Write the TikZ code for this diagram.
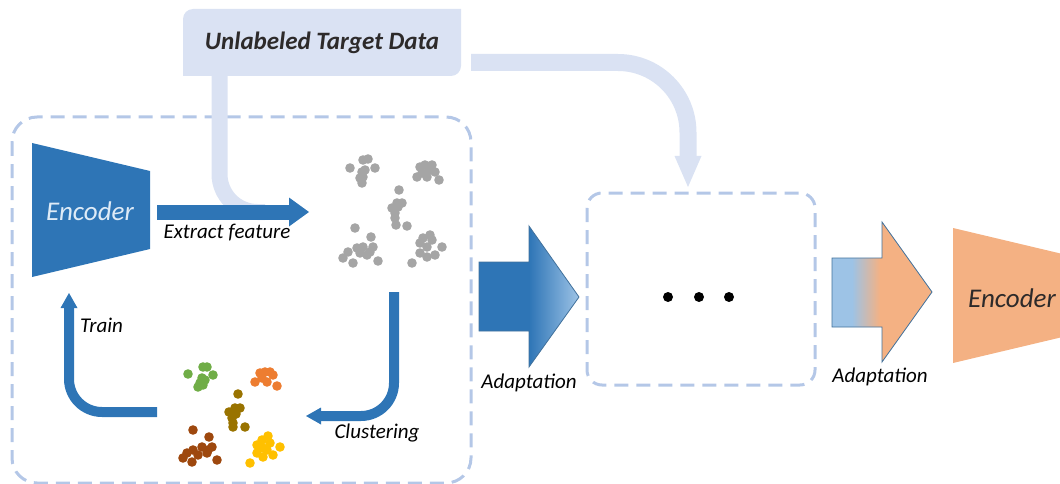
\documentclass[tikz,border=0pt]{standalone}
\usepackage{fontspec}
\setmainfont{Carlito}
\usetikzlibrary{arrows.meta}
\definecolor{encblue}{RGB}{46,117,182}
\definecolor{edgeblue}{RGB}{65,113,156}
\definecolor{paleblue}{RGB}{157,195,230}
\definecolor{encwhite}{RGB}{222,235,247}
\definecolor{lavender}{RGB}{218,226,243}
\definecolor{dashblue}{RGB}{180,199,231}
\definecolor{encorange}{RGB}{244,177,131}
\definecolor{txtdark}{RGB}{45,42,42}
\definecolor{dotgray}{RGB}{165,165,165}
\definecolor{cgreen}{RGB}{112,173,71}
\definecolor{corange}{RGB}{237,125,49}
\definecolor{colive}{RGB}{153,115,0}
\definecolor{cbrown}{RGB}{158,72,14}
\definecolor{cyellow}{RGB}{255,192,0}
\pgfdeclarehorizontalshading{bluefade}{100bp}{color(0bp)=(encblue); color(50bp)=(encblue); color(75bp)=(paleblue); color(100bp)=(paleblue)}
\pgfdeclarehorizontalshading{blueorange}{100bp}{color(0bp)=(paleblue); color(35bp)=(paleblue); color(49bp)=(encorange); color(100bp)=(encorange)}

\begin{document}
\begin{tikzpicture}[x=1pt,y=-1pt,
	lbl/.style={font=\fontsize{21}{24}\selectfont\itshape, inner sep=0pt},
	enclbl/.style={font=\fontsize{27}{30}\selectfont\itshape, inner sep=0pt},
	dashbox/.style={draw=dashblue, line width=3pt, dash pattern=on 14pt off 8pt},
	feedpipe/.style={draw=lavender, line width=16pt},
	cyclearrow/.style={draw=encblue, line width=10pt, rounded corners=33pt, -{Triangle[length=15pt,width=17pt,line width=0pt]}},
	fatarrow/.style={draw=edgeblue, line width=0.8pt}
	]
	\useasboundingbox (0,0) rectangle (1060,484);
	% dashed frames
	\draw[dashbox, rounded corners=25pt] (12,117) rectangle (471,483);
	\draw[dashbox, rounded corners=15pt] (587,193) rectangle (815,385);
	% target data box and its two feeds
	\fill[lavender] (183,76) -- (183,19) arc[start angle=180, end angle=270, radius=10] -- (461,9) -- (461,66) arc[start angle=0, end angle=90, radius=10] -- cycle;
	\node[font=\fontsize{25}{28}\selectfont\bfseries\itshape, text=txtdark] (target) at (322,43) {Unlabeled Target Data};
	\coordinate (tgtdown) at (219.5,70);
	\coordinate (tgtright) at (471,62.5);
	\coordinate (pipeend) at (265,212);
	\coordinate (nextin) at (688,187);
	\draw[feedpipe, rounded corners=38pt] (tgtdown) |- (pipeend);
	\draw[feedpipe, line width=17pt, rounded corners=70pt, -{Triangle[length=31pt,width=27pt,line width=0pt]}] (tgtright) -| (nextin);
	% encoder
	\fill[encblue] (32,143) -- (150,171) -- (150,249) -- (32,277) -- cycle;
	\node[enclbl, text=encwhite] (enc) at (90,211) {Encoder};
	\coordinate (encout) at (157,212);
	\coordinate (featin) at (309,212);
	\draw[encblue, line width=15pt, -{Triangle[length=20pt,width=29pt,line width=0pt]}] (encout) -- (featin);
	\node[lbl] (extract) at (227,233) {Extract feature};
	% features
	\foreach \x/\y in {350/168,363/160,368/159,375/168,362/172,360/178,362/183,363/177,365/170,
		417/177,420/167,425/165,432/165,435/172,427/177,439/180,422/173,429/170,
		399/190,397/203,402/203,392/208,395/213,395/218,396/225,407/226,398/207,
		355/228,371/237,373/247,363/247,357/248,348/252,343/258,353/263,367/255,378/261,360/253,370/252,
		430/235,423/238,420/243,427/247,442/247,435/255,420/253,427/257,412/263,432/240}
		\fill[dotgray] (\x,\y) circle (4.8pt);
	% clusters
	\foreach \x/\y in {188/374,203/367,207/367,213/375,202/378,200/383,198/387,203/385,205/380}
		\fill[cgreen] (\x,\y) circle (4.8pt);
	\foreach \x/\y in {255/382,260/373,265/372,270/372,273/375,267/382,277/386,262/378}
		\fill[corange] (\x,\y) circle (4.8pt);
	\foreach \x/\y in {238/394,235/408,240/408,229/412,232/418,233/423,233/427,245/427,236/414}
		\fill[colive] (\x,\y) circle (4.8pt);
	\foreach \x/\y in {193/430,209/437,212/447,202/447,193/450,187/453,183/458,192/462,207/453,217/460,198/455,208/450}
		\fill[cbrown] (\x,\y) circle (4.8pt);
	\foreach \x/\y in {268/436,262/440,257/445,263/448,280/447,273/455,257/453,263/457,250/463,270/443,267/450}
		\fill[cyellow] (\x,\y) circle (4.8pt);
	% loop
	\coordinate (featout) at (394,292);
	\coordinate (clustin) at (306,416);
	\coordinate (clustout) at (157,412);
	\coordinate (encin) at (69,293);
	\draw[cyclearrow] (featout) |- (clustin);
	\draw[cyclearrow] (clustout) -| (encin);
	\node[lbl, anchor=west] (train) at (80,325) {Train};
	\node[lbl] (clust) at (377,433) {Clustering};
	% adaptation steps
	\shadedraw[shading=bluefade, fatarrow] (479,262) -- (529,262) -- (529,226) -- (579,297) -- (529,367) -- (529,331) -- (479,331) -- cycle;
	\node[lbl] (adapt1) at (529,383) {Adaptation};
	\foreach \x in {668,699,729}
		\fill (\x,297) circle (5pt);
	\shadedraw[shading=blueorange, fatarrow] (832,258) -- (882,258) -- (882,222) -- (932,292) -- (882,362) -- (882,327) -- (832,327) -- cycle;
	\node[lbl] (adapt2) at (880,377) {Adaptation};
	\fill[encorange] (953,228) -- (1071,256) -- (1071,335) -- (953,363) -- cycle;
	\node[enclbl, text=txtdark] (enc2) at (1012,298) {Encoder};
\end{tikzpicture}
\end{document}
